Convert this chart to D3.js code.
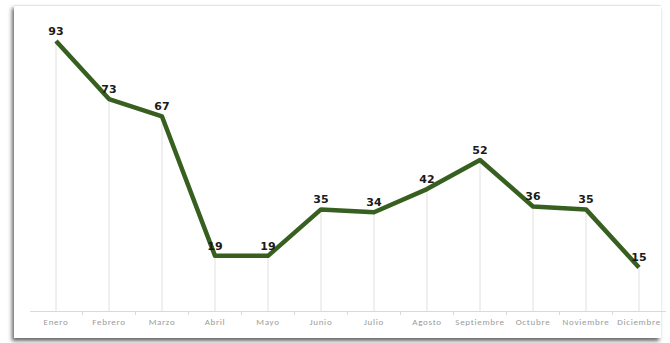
<!DOCTYPE html>
<html>
<head>
<meta charset="utf-8">
<script src="https://cdn.jsdelivr.net/npm/d3@7"></script>
<style>
  html, body { margin: 0; padding: 0; background: #fff; overflow: hidden; }
  #card {
    position: absolute; left: 14px; top: 5px; width: 647px; height: 332px;
    background: #fff; border-top: 1px solid #e4e4e4;
    box-shadow: -2px 3px 4px rgba(0,0,0,0.6);
  }
  svg { position: absolute; left: 0; top: 0; }
</style>
</head>
<body>
<div id="card"></div>
<svg id="chart"></svg>
<script>
// Config
const width = 670;
const height = 343;

// Datos
const meses = ["Enero", "Febrero", "Marzo", "Abril", "Mayo", "Junio", "Julio",
  "Agosto", "Septiembre", "Octubre", "Noviembre", "Diciembre"];
const valores = [93, 73, 67, 19, 19, 35, 34, 42, 52, 36, 35, 15];

const svg = d3.select("#chart")
  .attr("width", width)
  .attr("height", height);

const x = d3.scaleBand()
  .domain(meses)
  .range([29.5, 665.5]);

const y = d3.scaleLinear()
  .domain([0, 93])
  .range([311, 41]);

const cx = d => x(d) + x.bandwidth() / 2;

// Eje X
const axis = svg.append("g")
  .attr("transform", `translate(0,${y(0)})`)
  .call(d3.axisBottom(x).tickSize(0).tickPadding(8));
axis.select(".domain").attr("stroke", "#d9d9d9");
axis.selectAll("text")
  .attr("fill", "#9a9a9a")
  .style("font-family", "Calibri, Carlito, 'Liberation Sans', sans-serif")
  .style("font-size", "9px")
  .style("letter-spacing", "0.7px");

// marcas entre categorias
svg.selectAll(".sep")
  .data(meses.slice(1))
  .join("line")
  .attr("x1", d => x(d)).attr("x2", d => x(d))
  .attr("y1", y(0)).attr("y2", y(0) + 4)
  .attr("stroke", "#d9d9d9");

// Lineas de caida
svg.selectAll(".drop")
  .data(meses)
  .join("line")
  .attr("x1", d => cx(d)).attr("x2", d => cx(d))
  .attr("y1", (d, i) => y(valores[i])).attr("y2", y(0))
  .attr("stroke", "#e0e0e0")
  .attr("stroke-width", 1);

// Linea
const line = d3.line()
  .x((d, i) => cx(meses[i]))
  .y(d => y(d));

svg.append("path")
  .datum(valores)
  .attr("d", line)
  .attr("fill", "none")
  .attr("stroke", "#375f1f")
  .attr("stroke-width", 4.5)
  .attr("stroke-linejoin", "round");

// Etiquetas
svg.selectAll(".lbl")
  .data(valores)
  .join("text")
  .attr("x", (d, i) => cx(meses[i]))
  .attr("y", d => y(d) - 6)
  .attr("text-anchor", "middle")
  .attr("fill", "#1a1a1a")
  .style("font-family", "'DejaVu Sans', sans-serif")
  .style("font-weight", "bold")
  .style("font-size", "11px")
  .text(d => d);
</script>
</body>
</html>
